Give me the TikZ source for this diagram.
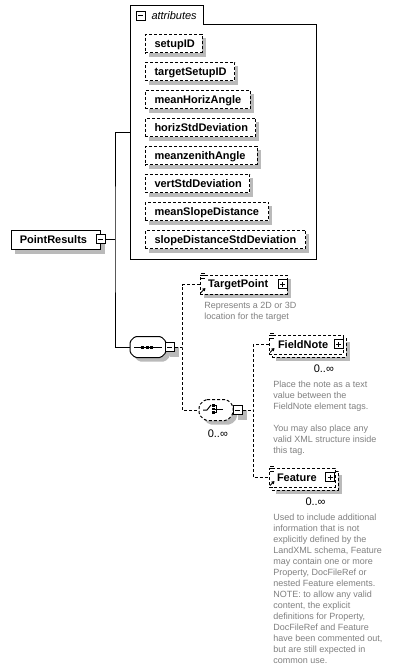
\documentclass[tikz,border=0pt]{standalone}
\usepackage{fontspec}
\setmainfont{Liberation Sans}
\usetikzlibrary{arrows.meta}
\definecolor{shgray}{RGB}{186,186,186}
\definecolor{descgray}{RGB}{128,128,128}
\newcommand\elemicons[3]{%
  \draw[line width=0.8pt] (#1+1.5,#2-1.5) -- (#1+5,#2-1.5) (#1+1.5,#2+1) -- (#1+5.5,#2+1) (#1+1.5,#2+3.5) -- (#1+5.5,#2+3.5);
  \draw[line width=1pt,-{Triangle[length=3pt,width=3.5pt]}] (#1+1.5,#3-1) -- (#1+6,#3-5.5);
}
\begin{document}
\begin{tikzpicture}[x=1pt,y=-1pt, line width=1pt,
  box/.style={draw, fill=white, inner sep=0pt, anchor=north west},
  dbox/.style={box, dash pattern=on 3pt off 2pt},
  lbl/.style={inner sep=0pt, anchor=base west, font=\fontsize{11pt}{13pt}\selectfont\bfseries},
  desc/.style={inner sep=0pt, anchor=base west, text=descgray, font=\fontsize{9pt}{11pt}\selectfont},
  occ/.style={inner sep=0pt, anchor=base west, font=\fontsize{11pt}{13pt}\selectfont},
  pm/.style={draw, fill=white, inner sep=0pt, minimum size=9pt,
    path picture={\draw[line width=1pt] ([xshift=2pt]path picture bounding box.west) -- ([xshift=-2pt]path picture bounding box.east);}},
  plusbox/.style={draw, fill=white, inner sep=0pt, minimum size=9pt,
    path picture={\draw[line width=1pt] ([xshift=2pt]path picture bounding box.west) -- ([xshift=-2pt]path picture bounding box.east)
      ([yshift=2pt]path picture bounding box.south) -- ([yshift=-2pt]path picture bounding box.north);}},
  conn/.style={draw, line width=1pt},
  dconn/.style={conn, dash pattern=on 3pt off 2pt},
  ghost/.style={inner sep=0pt, draw=none},
  shnode/.style={fill=shgray, draw=none, inner sep=0pt, anchor=north west},
]
\fill[white] (0,0) rectangle (403,670);
\useasboundingbox (0,0) rectangle (403,670);

% ---- PointResults
\node[shnode, minimum width=90pt, minimum height=20pt] (prs) at (14,233.3) {};
\node[box, minimum width=89.5pt, minimum height=19pt] (pr) at (10.5,229.8) {};
\node[lbl] (prl) at (19.3,243.3) {PointResults};
\node[pm] (prm) at (100.5,239) {};

% ---- attributes container
\node[ghost, minimum width=186pt, minimum height=254pt] (attr) at (223.5,132.5) {};
\draw (130.5,5.5) -- (203.5,5.5) -- (203.5,24.5) -- (316.5,24.5) -- (316.5,259.5) -- (130.5,259.5) -- cycle;
\node[pm] (attrm) at (140.5,15.5) {};
\node[inner sep=0pt, anchor=base west, font=\fontsize{11pt}{13pt}\selectfont\itshape] (attrt) at (151,19) {attributes};

\foreach \w/\t [count=\i from 0] in {56.7/setupID, 89.4/targetSetupID, 105/meanHorizAngle, 110.4/horizStdDeviation, 111.7/meanzenithAngle, 104.4/vertStdDeviation, 123.4/meanSlopeDistance, 160.4/slopeDistanceStdDeviation}{
  \node[shnode, minimum width=\w pt, minimum height=19pt] (ats\i) at (148.3,{37.3+28*\i}) {};
  \node[dbox, minimum width=\w pt, minimum height=18.4pt] (at\i) at (144.8,{33.8+28*\i}) {};
  \node[lbl] (atl\i) at (154,{47+28*\i}) {\t};
}

% ---- sequence
\node[ghost, minimum width=35pt, minimum height=20pt] (seq) at (148,347) {};
\fill[shgray, rounded corners=1.5pt]
  ([xshift=9pt,yshift=-4pt]seq.north west) -- ([xshift=-1pt,yshift=-4pt]seq.north east) -- ([xshift=4pt,yshift=-9pt]seq.north east)
  -- ([xshift=4pt,yshift=1pt]seq.south east) -- ([xshift=-1pt,yshift=-4pt]seq.south east) -- ([xshift=9pt,yshift=-4pt]seq.south west)
  -- ([xshift=4pt,yshift=1pt]seq.south west) -- ([xshift=4pt,yshift=-9pt]seq.north west) -- cycle;
\draw[fill=white, rounded corners=1.5pt]
  ([xshift=5pt]seq.north west) -- ([xshift=-5pt]seq.north east) -- ([yshift=-5pt]seq.north east)
  -- ([yshift=5pt]seq.south east) -- ([xshift=-5pt]seq.south east) -- ([xshift=5pt]seq.south west)
  -- ([yshift=5pt]seq.south west) -- ([yshift=-5pt]seq.north west) -- cycle;
\draw (134,347) -- (161.5,347);
\fill (141,345.5) rectangle (144,348.5);
\fill (145.5,345.5) rectangle (148.5,348.5);
\fill (150,345.5) rectangle (153,348.5);
\node[shnode, minimum size=9.5pt] (seqms) at (169,346.5) {};
\node[pm] (seqm) at (169.5,347) {};

% ---- choice
\node[ghost, minimum width=33pt, minimum height=20pt] (ch) at (216,410) {};
\fill[shgray, rounded corners=2pt]
  ([xshift=10pt,yshift=-4pt]ch.north west) -- ([xshift=-2pt,yshift=-4pt]ch.north east) -- ([xshift=4pt,yshift=-10pt]ch.north east)
  -- ([xshift=4pt,yshift=2pt]ch.south east) -- ([xshift=-2pt,yshift=-4pt]ch.south east) -- ([xshift=10pt,yshift=-4pt]ch.south west)
  -- ([xshift=4pt,yshift=2pt]ch.south west) -- ([xshift=4pt,yshift=-10pt]ch.north west) -- cycle;
\draw[fill=white, dash pattern=on 3pt off 2pt, rounded corners=2pt]
  ([xshift=6pt]ch.north west) -- ([xshift=-6pt]ch.north east) -- ([yshift=-6pt]ch.north east)
  -- ([yshift=6pt]ch.south east) -- ([xshift=-6pt]ch.south east) -- ([xshift=6pt]ch.south west)
  -- ([yshift=6pt]ch.south west) -- ([yshift=-6pt]ch.north west) -- cycle;
\draw (203,410) -- (207,410) -- (211,405);
\fill (212,404.3) rectangle (214.5,406.8);
\fill (212,407.8) rectangle (214.5,410.3);
\fill (212,411.3) rectangle (214.5,413.8);
\draw (214.5,405.5) -- (216,405.5) -- (216,412.5) -- (214.5,412.5) (214.5,409) -- (222.5,409);
\node[shnode, minimum size=9.5pt] (chms) at (237,409.5) {};
\node[pm] (chm) at (237.5,410) {};
\node[occ] (cho) at (207.3,437.3) {0..∞};

% ---- TargetPoint
\node[shnode, minimum width=87.5pt, minimum height=19.5pt] (tps) at (203,278) {};
\node[dbox, minimum width=87pt, minimum height=19pt] (tp) at (199.5,274.5) {};
\elemicons{199.5}{274.5}{293.5}
\node[lbl] (tpl) at (207.5,287.7) {TargetPoint};
\node[plusbox] (tpp) at (282.5,284) {};
\node[desc] (tpd0) at (203.8,308.5) {Represents a 2D or 3D};
\node[desc] (tpd1) at (203.8,319.5) {location for the target};

% ---- FieldNote
\node[shnode, minimum width=74.5pt, minimum height=19.5pt] (fns) at (275,341) {};
\node[dbox, minimum width=74pt, minimum height=19pt] (fnb) at (271.5,337.5) {};
\node[dbox, minimum width=74pt, minimum height=19pt] (fn) at (268.5,334.5) {};
\elemicons{268.5}{334.5}{353.5}
\node[lbl] (fnl) at (277.5,348) {FieldNote};
\node[plusbox] (fnp) at (338.5,344) {};
\node[occ] (fno) at (313.3,372) {0..∞};
\foreach \k/\t in {0/Place the note as a text, 1/value between the, 2/FieldNote element tags., 4/You may also place any, 5/valid XML structure inside, 6/this tag.}{
  \node[desc] (fnd\k) at (272.8,{387.3+11.11*\k}) {\t};
}

% ---- Feature
\node[shnode, minimum width=66.5pt, minimum height=19.5pt] (fes) at (275,474) {};
\node[dbox, minimum width=66pt, minimum height=19pt] (feb) at (271.5,470.5) {};
\node[dbox, minimum width=66pt, minimum height=19pt] (fe) at (268.5,467.5) {};
\elemicons{268.5}{467.5}{486.5}
\node[lbl] (fel) at (276.5,481.5) {Feature};
\node[plusbox] (fep) at (330,477) {};
\node[occ] (feo) at (305,505) {0..∞};
\foreach \t [count=\i from 0] in {Used to include additional, information that is not, explicitly defined by the, {LandXML schema, Feature}, may contain one or more, {Property, DocFileRef or}, nested Feature elements., {NOTE: to allow any valid}, {content, the explicit}, {definitions for Property,}, DocFileRef and Feature, {have been commented out,}, but are still expected in, common use.}{
  \node[desc] (fed\i) at (272.8,{520+11.03*\i}) {\t};
}

% ---- connectors
\coordinate (jn) at (115,239);
\coordinate (d1) at (182,347);
\coordinate (d2) at (253,410);
\draw[conn] (prm.east) -- (jn);
\draw[conn] (attr.west) -| (jn) |- (seq.west);
\draw[dconn] (seqm.east) -- (d1);
\draw[dconn] (tp.west) -| (d1) |- (ch.west);
\draw[dconn] (chm.east) -- (d2);
\draw[dconn] (fn.west) -| (d2) |- (fe.west);
\end{tikzpicture}
\end{document}
